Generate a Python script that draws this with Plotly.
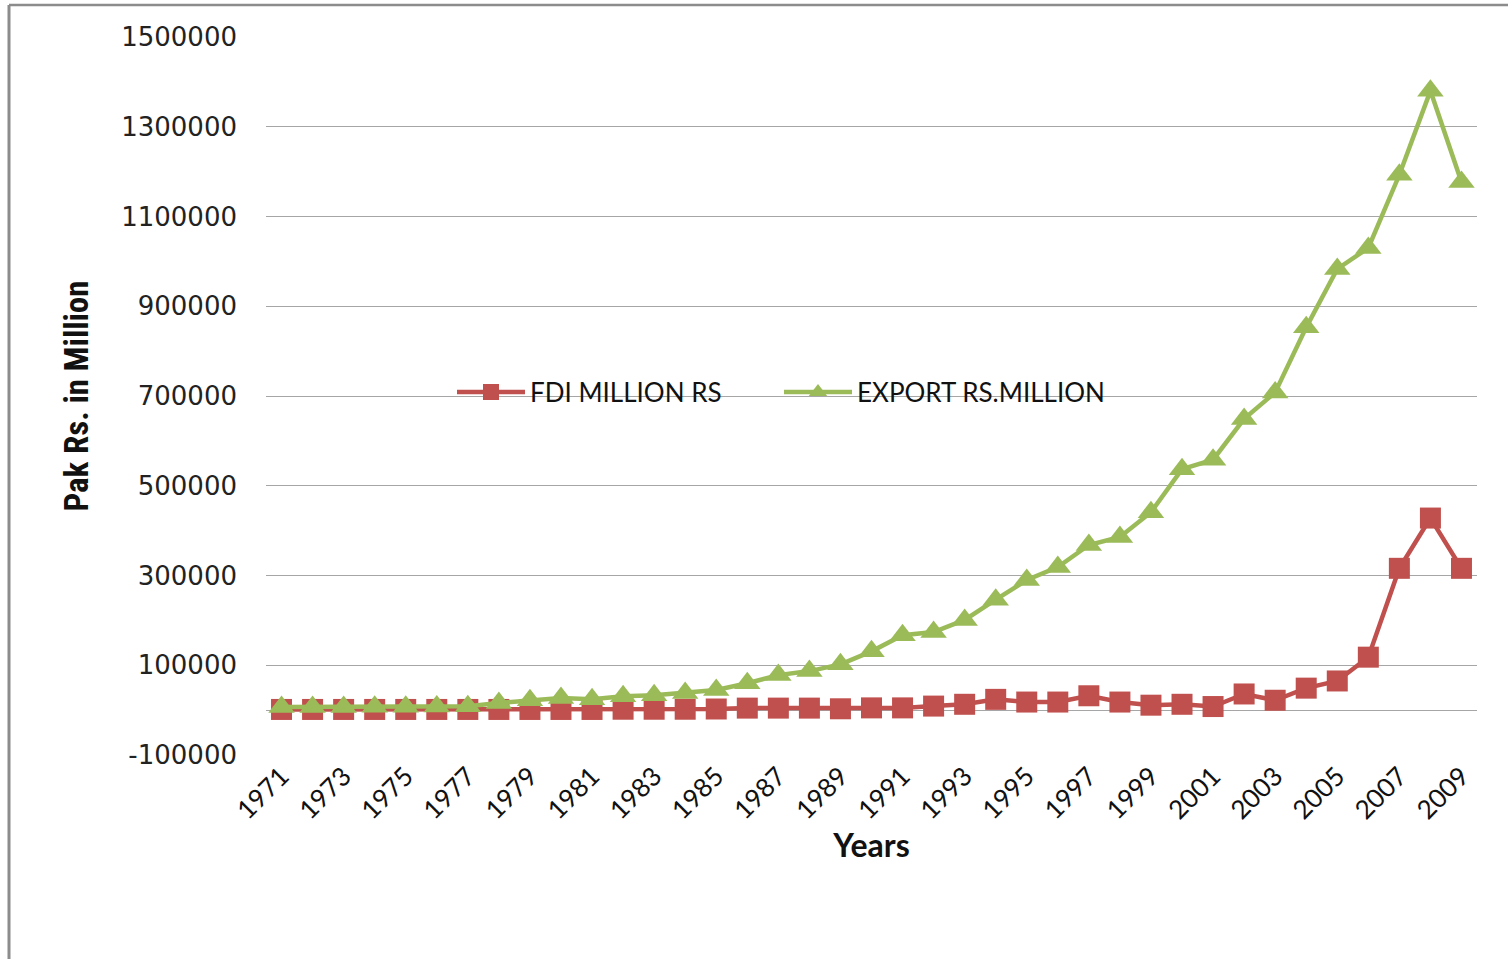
import plotly.graph_objects as go

# Pakistan FDI and exports, Rs. million, 1971-2009
years = list(range(1971, 2010))

fdi_million_rs = [
    1500, 1500, 1500, 1500, 1500, 1500, 1500, 1500, 1500, 1500,
    1500, 2000, 2000, 2000, 2500, 4500, 4500, 4500, 3000, 5000,
    5000, 9000, 13000, 24000, 18000, 18000, 32000, 18000, 11000, 13000,
    8000, 36000, 22000, 49000, 65000, 118000, 316000, 428000, 316000,
]

export_rs_million = [
    7000, 7000, 7000, 7500, 7500, 8000, 8500, 16000, 22000, 27000,
    24000, 31000, 33000, 38000, 45000, 60000, 78000, 87000, 102000, 131000,
    167000, 174000, 201000, 246000, 290000, 319000, 368000, 386000, 441000, 537000,
    558000, 649000, 708000, 853000, 983000, 1030000, 1193000, 1380000, 1177000,
]

y_tick_values = [-100000, 100000, 300000, 500000, 700000, 900000, 1100000, 1300000, 1500000]
x_tick_values = years[::2]

RED = "#C0504D"
GREEN = "#9BBB59"

fig = go.Figure()

fig.add_trace(go.Scatter(
    x=years, y=fdi_million_rs, name="FDI MILLION RS",
    mode="lines+markers",
    line=dict(color=RED, width=4.5),
    marker=dict(symbol="square", size=21, color=RED),
))

fig.add_trace(go.Scatter(
    x=years, y=export_rs_million, name="EXPORT RS.MILLION",
    mode="lines+markers",
    line=dict(color=GREEN, width=4.5),
    marker=dict(symbol="triangle-up", size=23, color=GREEN),
))

L, R, T, B = 266, 31, 37, 204
W, H = 1508, 959
pw, ph = W - L - R, H - T - B

# outer chart-area frame (top and left edges)
fx0 = (9 - L) / pw
fy1 = (H - 5 - B) / ph
fig.add_shape(type="line", xref="paper", yref="paper",
              x0=fx0, x1=(W - L) / pw + 0.01, y0=fy1, y1=fy1,
              line=dict(color="#8C8C8C", width=2.5))
fig.add_shape(type="line", xref="paper", yref="paper",
              x0=fx0, x1=fx0, y0=fy1, y1=-B / ph - 0.01,
              line=dict(color="#8C8C8C", width=3))

TEXT_FONT = "Lato, 'Liberation Sans', sans-serif"

fig.update_layout(
    width=W, height=H,
    margin=dict(l=L, r=R, t=T, b=B, autoexpand=False),
    paper_bgcolor="white",
    plot_bgcolor="white",
    showlegend=True,
    legend=dict(
        orientation="h",
        x=(452 - L) / pw, xanchor="left",
        y=(H - B - 392) / ph, yanchor="middle",
        bgcolor="rgba(0,0,0,0)",
        font=dict(family=TEXT_FONT, size=26, color="#111111"),
        itemwidth=68,
        entrywidth=244,
    ),
    xaxis=dict(
        range=[1970.5, 2009.5],
        tickmode="array",
        tickvals=x_tick_values,
        ticktext=[str(v) for v in x_tick_values],
        tickangle=-45,
        tickfont=dict(family=TEXT_FONT, size=26, color="#111111"),
        showgrid=False,
        showline=False,
        zeroline=False,
        ticks="",
        title=dict(
            text="<b>Years</b>",
            font=dict(family=TEXT_FONT, size=32, color="#111111"),
            standoff=0,
        ),
        automargin=False,
        fixedrange=True,
    ),
    yaxis=dict(
        range=[-100000, 1500000],
        tickmode="array",
        tickvals=y_tick_values,
        ticktext=[str(v) for v in y_tick_values],
        tickfont=dict(family="'DejaVu Sans', Verdana, sans-serif", size=26, color="#222222"),
        ticklabelstandoff=28,
        showgrid=True,
        gridcolor="#A6A6A6",
        gridwidth=1.3,
        zeroline=True,
        zerolinecolor="#A6A6A6",
        zerolinewidth=1.3,
        showline=False,
        ticks="",
        title=dict(
            text="<b>Pak Rs. in Million</b>",
            font=dict(family="'Liberation Sans Narrow', 'Roboto Condensed', Lato, sans-serif", size=33, color="#111111"),
            standoff=22,
        ),
        automargin=False,
        fixedrange=True,
    ),
)

fig.write_html("out.html")
